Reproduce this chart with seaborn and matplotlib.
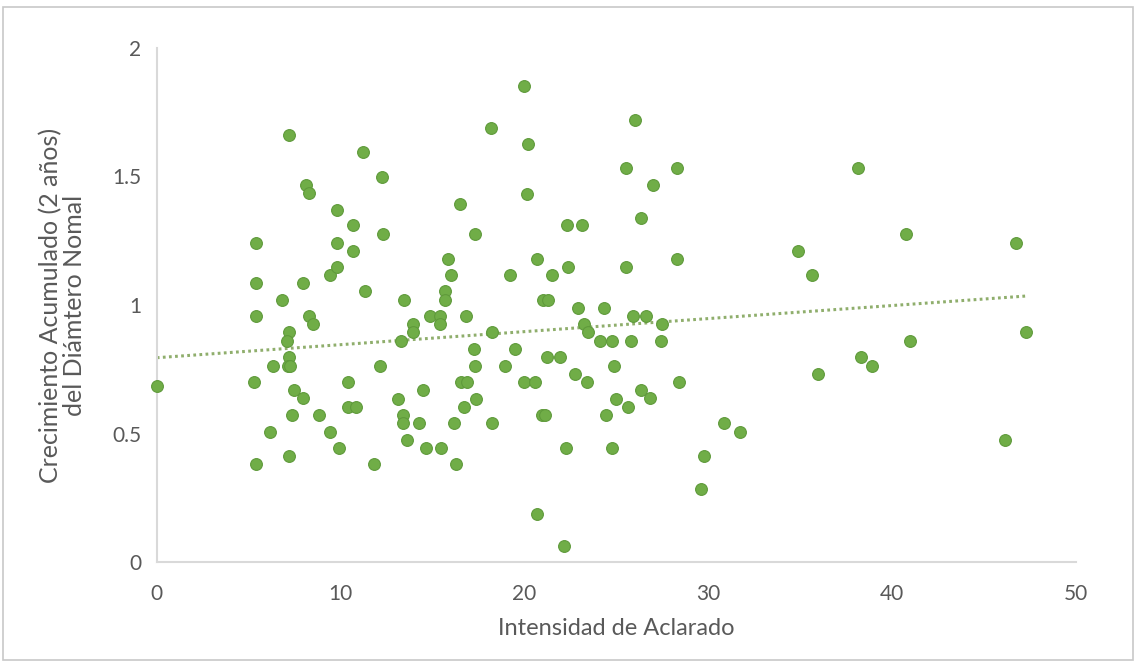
import numpy as np
import pandas as pd
import matplotlib
matplotlib.use('Agg')
import matplotlib.pyplot as plt
import seaborn as sns
from matplotlib.patches import Rectangle

# Datos
intensidad = [
    0.0, 5.42, 5.42, 5.42, 5.3, 5.42, 6.17, 6.31, 6.82, 7.2,
    7.2, 7.07, 7.2, 7.13, 7.25, 7.2, 7.35, 7.47, 7.94, 8.1,
    8.27, 8.27, 8.5, 7.97, 8.81, 9.43, 9.78, 9.79, 9.79, 10.65,
    10.7, 9.43, 9.92, 10.42, 10.42, 10.82, 11.2, 11.33, 11.82, 12.13,
    12.26, 12.3, 13.44, 13.28, 13.13, 13.4, 13.4, 13.64, 13.94, 13.94,
    14.24, 14.49, 14.67, 14.85, 15.4, 15.4, 15.45, 15.67, 15.67, 15.85,
    16.02, 16.15, 16.3, 16.51, 16.57, 16.88, 16.7, 16.81, 17.3, 17.27,
    17.3, 17.36, 18.19, 18.24, 18.24, 18.95, 19.22, 19.47, 19.97, 20.15,
    20.22, 19.97, 20.58, 20.66, 20.69, 20.96, 21.1, 21.02, 21.3, 21.24,
    21.51, 21.93, 22.15, 22.25, 22.31, 22.4, 22.74, 22.94, 23.16, 23.23,
    23.45, 23.41, 24.1, 24.32, 24.43, 24.77, 24.77, 24.88, 24.98, 25.55,
    25.55, 25.64, 25.82, 25.91, 26.03, 26.35, 26.64, 26.32, 26.86, 27.0,
    27.46, 27.5, 28.32, 28.32, 28.4, 29.62, 29.78, 30.87, 31.73, 34.89,
    35.67, 35.96, 38.16, 38.33, 38.91, 40.75, 41.0, 46.17, 46.77, 47.3,
]
crecimiento = [
    0.685, 1.242, 1.084, 0.957, 0.699, 0.383, 0.507, 0.763, 1.019, 1.66,
    0.894, 0.861, 0.796, 0.763, 0.763, 0.414, 0.572, 0.669, 1.084, 1.466,
    1.435, 0.957, 0.925, 0.637, 0.572, 1.115, 1.149, 1.242, 1.371, 1.309,
    1.21, 0.507, 0.445, 0.699, 0.604, 0.604, 1.595, 1.054, 0.383, 0.763,
    1.497, 1.277, 1.019, 0.861, 0.636, 0.572, 0.542, 0.477, 0.925, 0.894,
    0.542, 0.668, 0.445, 0.957, 0.957, 0.925, 0.445, 1.054, 1.019, 1.178,
    1.115, 0.542, 0.381, 1.394, 0.699, 0.699, 0.604, 0.957, 1.277, 0.829,
    0.763, 0.636, 1.689, 0.894, 0.542, 0.763, 1.115, 0.829, 1.85, 1.433,
    1.626, 0.699, 0.699, 1.178, 0.189, 0.572, 0.572, 1.019, 1.019, 0.796,
    1.115, 0.796, 0.062, 0.445, 1.309, 1.147, 0.732, 0.987, 1.309, 0.925,
    0.894, 0.699, 0.861, 0.987, 0.572, 0.861, 0.445, 0.763, 0.636, 1.532,
    1.147, 0.604, 0.861, 0.957, 1.72, 1.34, 0.957, 0.669, 0.637, 1.466,
    0.861, 0.925, 1.532, 1.179, 0.699, 0.283, 0.414, 0.542, 0.507, 1.21,
    1.115, 0.732, 1.532, 0.799, 0.763, 1.276, 0.861, 0.477, 1.242, 0.894,
]
# Línea de tendencia (ecuación, como la de Excel)
tendencia_intercepto = 0.795
tendencia_pendiente = 0.00507

x_ticks = [0, 10, 20, 30, 40, 50]
y_ticks = [0, 0.5, 1, 1.5, 2]
y_tick_labels = ['0', '0.5', '1', '1.5', '2']

df = pd.DataFrame({'intensidad': intensidad, 'crecimiento': crecimiento})
x_tend = np.array([df['intensidad'].min(), df['intensidad'].max()])
df_tend = pd.DataFrame({'x': x_tend,
                        'y': tendencia_intercepto + tendencia_pendiente * x_tend})

sns.set_theme(style='white')
plt.rcParams['font.family'] = ['Lato', 'DejaVu Sans']

verde = '#70AD47'
gris_texto = '#595959'

fig = plt.figure(figsize=(11.36, 6.63), dpi=100)
ax = fig.add_axes([0.138, 0.152, 0.809, 0.776])

sns.lineplot(data=df_tend, x='x', y='y', ax=ax, color='#8fae6c',
             linewidth=2.2, linestyle=(0, (0.9, 1.1)))

sns.scatterplot(data=df, x='intensidad', y='crecimiento', ax=ax,
                color=verde, s=72, edgecolor='#5f9a3b', linewidth=0.8,
                zorder=3, clip_on=False)

ax.set_xlim(0, 50)
ax.set_ylim(0, 2)
ax.set_xticks(x_ticks)
ax.set_yticks(y_ticks)
ax.set_yticklabels(y_tick_labels)
ax.tick_params(axis='both', length=0, labelsize=15, colors=gris_texto)
ax.tick_params(axis='x', pad=16)
ax.tick_params(axis='y', pad=11)

for lado in ['top', 'right']:
    ax.spines[lado].set_visible(False)
for lado in ['left', 'bottom']:
    ax.spines[lado].set_color('#d9d9d9')
    ax.spines[lado].set_linewidth(1.5)

ax.set_xlabel('Intensidad de Aclarado', fontsize=17, color=gris_texto,
              labelpad=10)
ax.set_ylabel('Crecimiento Acumulado (2 años)\ndel Diámtero Nomal',
              fontsize=18, color=gris_texto, labelpad=19, linespacing=1.05)

# Borde del gráfico
fig.patches.append(Rectangle((0.003, 0.005), 0.994, 0.985,
                             transform=fig.transFigure, fill=False,
                             edgecolor='#c8c8c8', linewidth=1.2))

plt.savefig('out.png', dpi=100)
